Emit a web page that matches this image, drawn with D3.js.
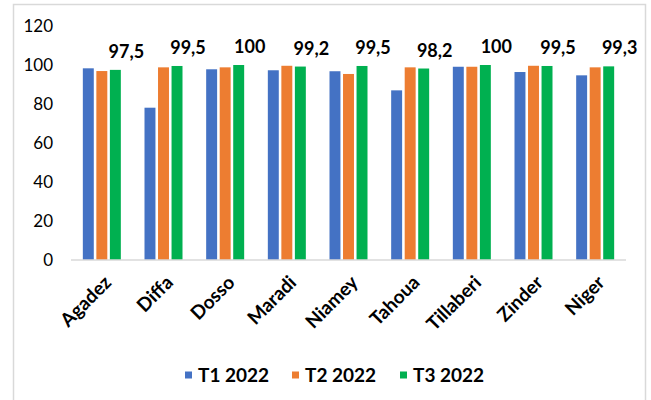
<!DOCTYPE html>
<html>
<head>
<meta charset="utf-8">
<script src="https://cdn.jsdelivr.net/npm/d3@7.9.0/dist/d3.min.js"></script>
<style>
  body { margin: 0; background: #fff; }
  text { font-family: Lato, "Open Sans", sans-serif; fill: #000; }
</style>
</head>
<body>
<svg id="chart" width="651" height="400"></svg>
<script>
// data
const regions = ['Agadez', 'Diffa', 'Dosso', 'Maradi', 'Niamey', 'Tahoua', 'Tillaberi', 'Zinder', 'Niger'];
const seriesNames = ['T1 2022', 'T2 2022', 'T3 2022'];
const t1 = [98.3, 78.1, 97.8, 97.3, 96.8, 87.0, 99.1, 96.4, 94.7];
const t2 = [96.9, 98.8, 98.8, 99.6, 95.4, 98.8, 99.1, 99.6, 98.8];
const t3 = [97.5, 99.5, 100, 99.2, 99.5, 98.2, 100, 99.5, 99.3];
const t3Labels = ['97,5', '99,5', '100', '99,2', '99,5', '98,2', '100', '99,5', '99,3'];
const yTicks = [0, 20, 40, 60, 80, 100, 120];
const colors = ['#4472C4', '#ED7D31', '#00B050'];

const series = [t1, t2, t3];
const svg = d3.select('#chart');

// outer chart frame
svg.append('rect')
  .attr('x', 13.5).attr('y', 4.5)
  .attr('width', 632).attr('height', 410)
  .attr('fill', 'none').attr('stroke', '#d9d9d9').attr('stroke-width', 1.5);

const x0 = d3.scaleBand().domain(regions).range([71, 626]);
const x1 = d3.scaleBand().domain(d3.range(3)).range([0, 38]).paddingInner(0.19);
const y = d3.scaleLinear().domain([0, 120]).range([260, 26]);
const groupOffset = (x0.bandwidth() - 38) / 2;

// y tick labels
svg.append('g').selectAll('text')
  .data(yTicks)
  .enter()
  .append('text')
  .attr('x', 53)
  .attr('y', d => y(d))
  .attr('dy', '0.35em')
  .attr('text-anchor', 'end')
  .style('font-size', '17px')
  .text(d => d);

// bars
const groups = svg.append('g').selectAll('g')
  .data(regions)
  .enter()
  .append('g')
  .attr('transform', d => `translate(${x0(d) + groupOffset},0)`);

groups.selectAll('rect')
  .data((d, i) => series.map((s, k) => ({ k, v: s[i] })))
  .enter()
  .append('rect')
  .attr('x', d => x1(d.k))
  .attr('width', x1.bandwidth())
  .attr('y', d => y(d.v))
  .attr('height', d => y(0) - y(d.v))
  .attr('fill', d => colors[d.k]);

// T3 value labels
groups.append('text')
  .attr('x', (d, i) => x1(2) + x1.bandwidth() / 2 + 11)
  .attr('y', (d, i) => y(t3[i]) - 12)
  .attr('text-anchor', 'middle')
  .style('font-size', '18px')
  .style('font-weight', 'bold')
  .text((d, i) => t3Labels[i]);

// x axis line
svg.append('line')
  .attr('x1', 71).attr('x2', 626)
  .attr('y1', y(0)).attr('y2', y(0))
  .attr('stroke', '#d9d9d9').attr('stroke-width', 1.5);

// x labels, rotated
svg.append('g').selectAll('text')
  .data(regions)
  .enter()
  .append('text')
  .attr('transform', d => `translate(${x0(d) + x0.bandwidth() / 2 + 6},${279}) rotate(-45)`)
  .attr('text-anchor', 'end')
  .attr('dy', '0.35em')
  .style('font-size', '19px')
  .style('font-weight', 'bold')
  .text(d => d);

// legend
const legendX = [185, 292, 400];
const legend = svg.append('g').selectAll('g')
  .data(seriesNames)
  .enter()
  .append('g')
  .attr('transform', (d, i) => `translate(${legendX[i]},375)`);
legend.append('rect')
  .attr('x', 0).attr('y', -3.5)
  .attr('width', 7).attr('height', 7)
  .attr('fill', (d, i) => colors[i]);
legend.append('text')
  .attr('x', 13)
  .attr('dy', '0.35em')
  .style('font-size', '19px')
  .style('font-weight', 'bold')
  .text(d => d);
</script>
</body>
</html>
